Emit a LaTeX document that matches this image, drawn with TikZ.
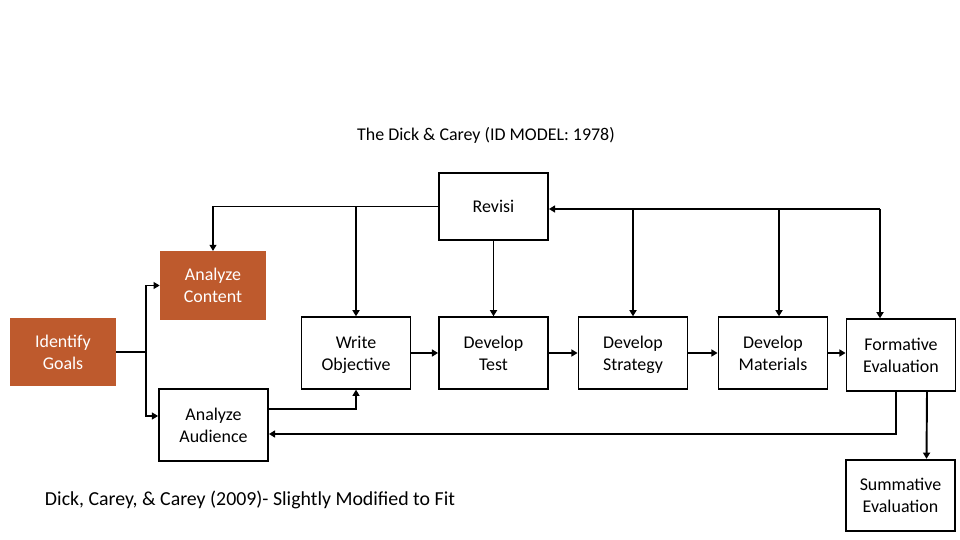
\documentclass[tikz,border=0pt]{standalone}
\usepackage{fontspec}
\setmainfont{Carlito}
\usetikzlibrary{arrows.meta,calc}
\definecolor{rust}{RGB}{190,90,45}
\begin{document}
\begin{tikzpicture}[x=0.02cm,y=-0.02cm,
    box/.style={draw,line width=1.1pt,align=center,minimum width=2.18cm,minimum height=1.43cm,
      font=\fontsize{10.2}{12.5}\selectfont,inner sep=1pt,text depth=0pt},
    filled/.style={fill=rust,text=white,align=center,minimum width=2.12cm,minimum height=1.37cm,
      font=\fontsize{10.2}{12.5}\selectfont,inner sep=1pt,text depth=0pt},
    arr/.style={line width=1.1pt,-{Triangle[length=3.5pt,width=4pt]}},
    thinarr/.style={line width=0.6pt,-{Triangle[length=3.5pt,width=4pt]}}]
    \useasboundingbox (0,0) rectangle (960,540);

      \node (title) at (486,135) {\fontsize{10.2}{12.5}\selectfont The Dick \& Carey (ID MODEL: 1978)};
      \node (source) at (250,500) {\fontsize{11.3}{13.5}\selectfont Dick, Carey, \& Carey (2009)- Slightly Modified to Fit};

      \node[filled] (goals) at (63,352) {Identify\\Goals};
      \node[filled] (content) at (213,285.5) {Analyze\\Content};
      \node[box] (audience) at (213.5,425) {Analyze\\Audience};
      \node[box] (objective) at (356,353) {Write\\Objective};
      \node[box] (test) at (493.5,353) {Develop\\Test};
      \node[box,minimum height=1.34cm] (revisi) at (493.5,206.5) {Revisi};
      \node[box] (strategy) at (633,353) {Develop\\Strategy};
      \node[box] (materials) at (773,353) {Develop\\Materials};
      \node[box] (formative) at (901,355) {Formative\\Evaluation};
      \node[box] (summative) at (900.5,495.5) {Summative\\Evaluation};

      \coordinate (split) at (146,352);
      \draw[line width=0.6pt] (goals.east) -- (split);
      \draw[thinarr] (split) |- (content.west);
      \draw[thinarr] (split) |- ($(audience.west)+(0,-9)$);

      \draw[thinarr] (revisi.west) -| (content.north);
      \draw[arr] (objective.north |- revisi.west) -- (objective.north);
      \draw[arr] (revisi.south) -- (test.north);

      \coordinate (back) at (880,209);
      \coordinate (mattop) at ($(materials.north)+(6,0)$);
      \draw[arr] (back) -- (revisi.east |- back);
      \draw[arr] (back) -- (back |- formative.north);
      \draw[arr] (strategy.north |- back) -- (strategy.north);
      \draw[arr] (mattop |- back) -- (mattop);

      \draw[arr] (objective) -- (test);
      \draw[arr] (test) -- (strategy);
      \draw[arr] (strategy) -- (materials);
      \draw[arr] (materials.east) -- (materials.east -| formative.west);

      \draw[thinarr] ($(audience.east)+(0,-16)$) -| (objective.south);
      \draw[arr] ($(formative.south)+(-5,0)$) |- ($(audience.east)+(0,9)$);
      \draw[arr] ($(formative.south)+(26,0)$) -- ($(summative.north)+(26,0)$);
  \end{tikzpicture}
\end{document}
